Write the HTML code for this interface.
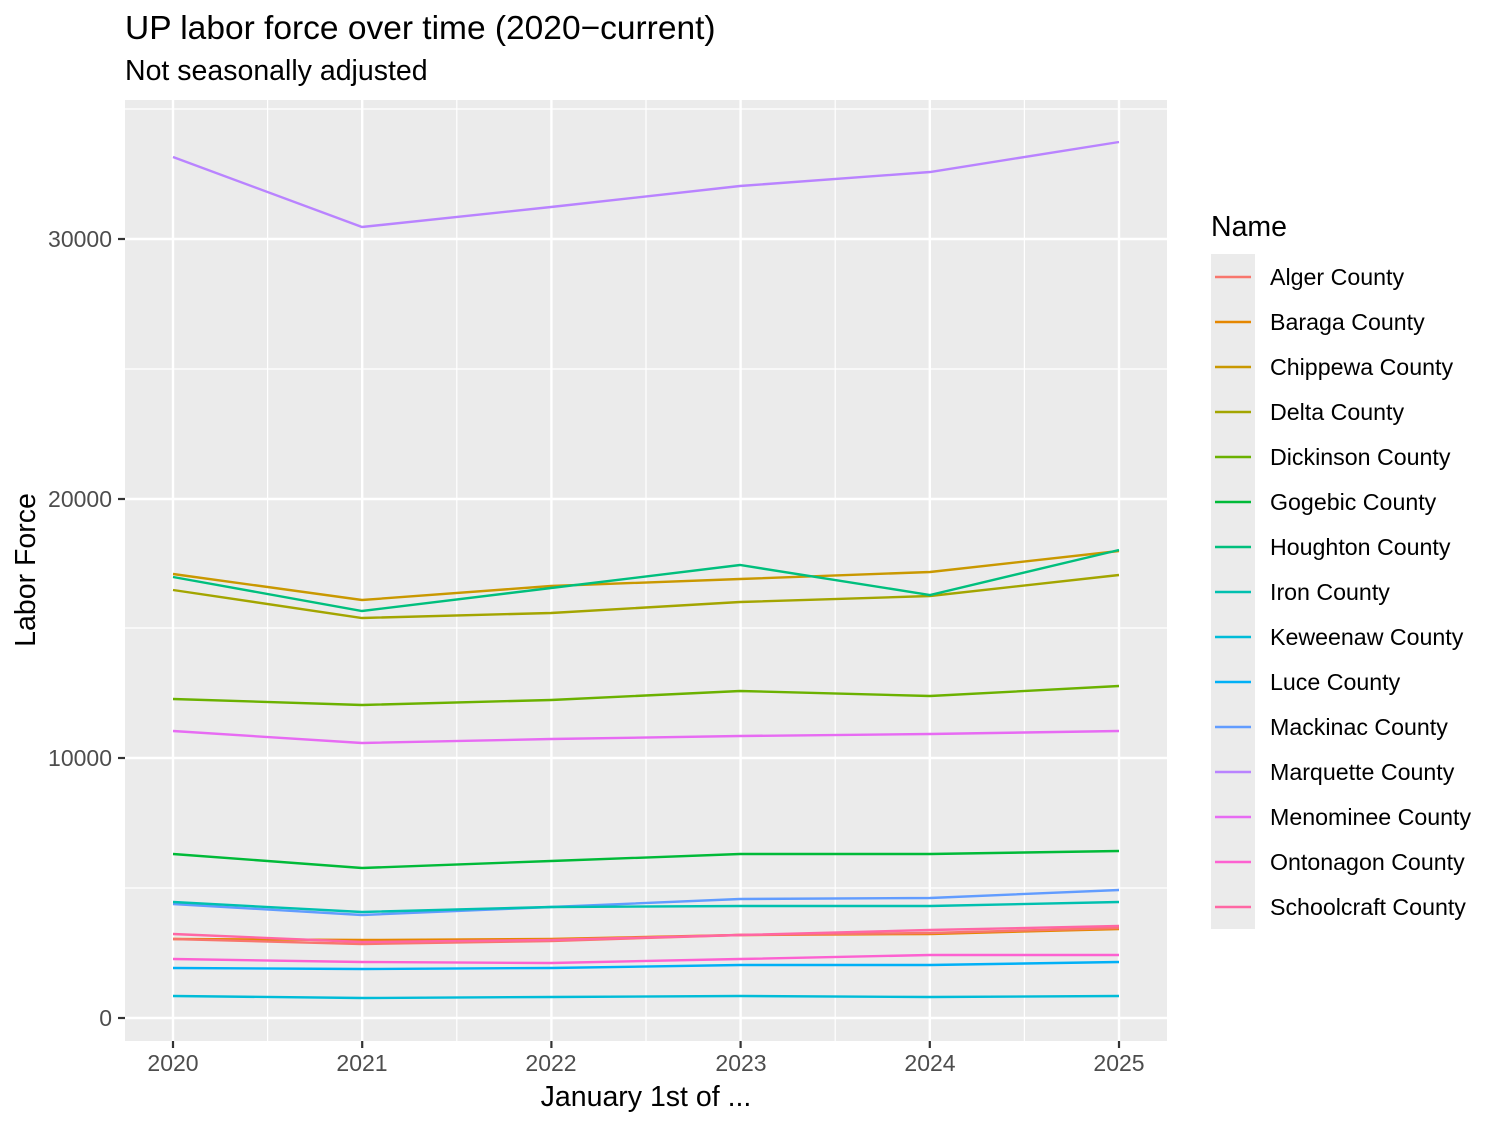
<!DOCTYPE html><html><head><meta charset="utf-8"><style>body{margin:0;background:#fff}svg text{font-family:"Liberation Sans",sans-serif}</style></head><body>
<svg width="1500" height="1125" xmlns="http://www.w3.org/2000/svg">
<rect width="1500" height="1125" fill="#fff"/>
<text x="125" y="39" font-size="33.5" fill="#000">UP labor force over time (2020−current)</text>
<text x="125" y="80" font-size="28.5" fill="#000">Not seasonally adjusted</text>
<rect x="125" y="100" width="1042" height="941" fill="#EBEBEB"/>
<g stroke="#fff" stroke-width="1.2">
<line x1="125" x2="1167" y1="888" y2="888"/><line x1="125" x2="1167" y1="628" y2="628"/><line x1="125" x2="1167" y1="369" y2="369"/><line x1="125" x2="1167" y1="109" y2="109"/>
<line y1="100" y2="1041" x1="267.6" x2="267.6"/><line y1="100" y2="1041" x1="456.8" x2="456.8"/><line y1="100" y2="1041" x1="646" x2="646"/><line y1="100" y2="1041" x1="835.2" x2="835.2"/><line y1="100" y2="1041" x1="1024.4" x2="1024.4"/>
</g>
<g stroke="#fff" stroke-width="2.4">
<line x1="125" x2="1167" y1="1018" y2="1018"/><line x1="125" x2="1167" y1="758" y2="758"/><line x1="125" x2="1167" y1="499" y2="499"/><line x1="125" x2="1167" y1="239" y2="239"/>
<line y1="100" y2="1041" x1="173" x2="173"/><line y1="100" y2="1041" x1="362.2" x2="362.2"/><line y1="100" y2="1041" x1="551.4" x2="551.4"/><line y1="100" y2="1041" x1="740.6" x2="740.6"/><line y1="100" y2="1041" x1="929.8" x2="929.8"/><line y1="100" y2="1041" x1="1119" x2="1119"/>
</g>
<g fill="none" stroke-width="2.4">
<polyline stroke="#00BCD8" points="173,996 362,998 551,997 740,996 930,997 1119,996"/>
<polyline stroke="#00B0F6" points="173,968 362,969 551,968 740,965 930,965 1119,962"/>
<polyline stroke="#FD61D1" points="173,959 362,962 551,963 740,959 930,955 1119,955"/>
<polyline stroke="#E58700" points="173,939 362,940 551,939 740,935 930,934 1119,929"/>
<polyline stroke="#F8766D" points="173,939 362,944 551,941 740,935 930,933 1119,928"/>
<polyline stroke="#FF67A4" points="173,934 362,942 551,940 740,935 930,930 1119,926"/>
<polyline stroke="#619CFF" points="173,904 362,915 551,907 740,899 930,898 1119,890"/>
<polyline stroke="#00C0AF" points="173,902 362,912 551,907 740,906 930,906 1119,902"/>
<polyline stroke="#00BA38" points="173,854 362,868 551,861 740,854 930,854 1119,851"/>
<polyline stroke="#E76BF3" points="173,731 362,743 551,739 740,736 930,734 1119,731"/>
<polyline stroke="#6BB100" points="173,699 362,705 551,700 740,691 930,696 1119,686"/>
<polyline stroke="#A3A500" points="173,590 362,618 551,613 740,602 930,596 1119,575"/>
<polyline stroke="#C99800" points="173,574 362,600 551,586 740,579 930,572 1119,551"/>
<polyline stroke="#00BF7D" points="173,577 362,611 551,588 740,565 930,595 1119,550"/>
<polyline stroke="#B983FF" points="173,157 362,227 551,207 740,186 930,172 1119,142"/>
</g>
<g stroke="#333" stroke-width="2.2"><line x1="118" x2="125" y1="1018" y2="1018"/><line x1="118" x2="125" y1="758" y2="758"/><line x1="118" x2="125" y1="499" y2="499"/><line x1="118" x2="125" y1="239" y2="239"/>
<line y1="1041" y2="1048" x1="173" x2="173"/><line y1="1041" y2="1048" x1="362.2" x2="362.2"/><line y1="1041" y2="1048" x1="551.4" x2="551.4"/><line y1="1041" y2="1048" x1="740.6" x2="740.6"/><line y1="1041" y2="1048" x1="929.8" x2="929.8"/><line y1="1041" y2="1048" x1="1119" x2="1119"/></g>
<g font-size="23" fill="#4D4D4D" text-anchor="end"><text x="112" y="1026">0</text><text x="112" y="766">10000</text><text x="112" y="507">20000</text><text x="112" y="247">30000</text></g>
<g font-size="23" fill="#4D4D4D" text-anchor="middle"><text x="173" y="1071">2020</text><text x="362" y="1071">2021</text><text x="551" y="1071">2022</text><text x="741" y="1071">2023</text><text x="930" y="1071">2024</text><text x="1119" y="1071">2025</text></g>
<text x="646" y="1106" font-size="28.5" text-anchor="middle">January 1st of ...</text>
<text transform="translate(35,570) rotate(-90)" font-size="28.5" text-anchor="middle">Labor Force</text>
<text x="1211" y="236" font-size="28.5">Name</text>
<rect x="1211" y="254" width="44" height="675" fill="#EBEBEB"/>
<g stroke-width="2.4">
<line x1="1215" x2="1251" y1="277" y2="277" stroke="#F8766D"/><line x1="1215" x2="1251" y1="322" y2="322" stroke="#E58700"/><line x1="1215" x2="1251" y1="367" y2="367" stroke="#C99800"/><line x1="1215" x2="1251" y1="412" y2="412" stroke="#A3A500"/><line x1="1215" x2="1251" y1="457" y2="457" stroke="#6BB100"/><line x1="1215" x2="1251" y1="502" y2="502" stroke="#00BA38"/><line x1="1215" x2="1251" y1="547" y2="547" stroke="#00BF7D"/><line x1="1215" x2="1251" y1="592" y2="592" stroke="#00C0AF"/><line x1="1215" x2="1251" y1="637" y2="637" stroke="#00BCD8"/><line x1="1215" x2="1251" y1="682" y2="682" stroke="#00B0F6"/><line x1="1215" x2="1251" y1="727" y2="727" stroke="#619CFF"/><line x1="1215" x2="1251" y1="772" y2="772" stroke="#B983FF"/><line x1="1215" x2="1251" y1="817" y2="817" stroke="#E76BF3"/><line x1="1215" x2="1251" y1="862" y2="862" stroke="#FD61D1"/><line x1="1215" x2="1251" y1="907" y2="907" stroke="#FF67A4"/>
</g>
<g font-size="23.2" fill="#000">
<text x="1270" y="285">Alger County</text><text x="1270" y="330">Baraga County</text><text x="1270" y="375">Chippewa County</text><text x="1270" y="420">Delta County</text><text x="1270" y="465">Dickinson County</text><text x="1270" y="510">Gogebic County</text><text x="1270" y="555">Houghton County</text><text x="1270" y="600">Iron County</text><text x="1270" y="645">Keweenaw County</text><text x="1270" y="690">Luce County</text><text x="1270" y="735">Mackinac County</text><text x="1270" y="780">Marquette County</text><text x="1270" y="825">Menominee County</text><text x="1270" y="870">Ontonagon County</text><text x="1270" y="915">Schoolcraft County</text>
</g>
</svg></body></html>
